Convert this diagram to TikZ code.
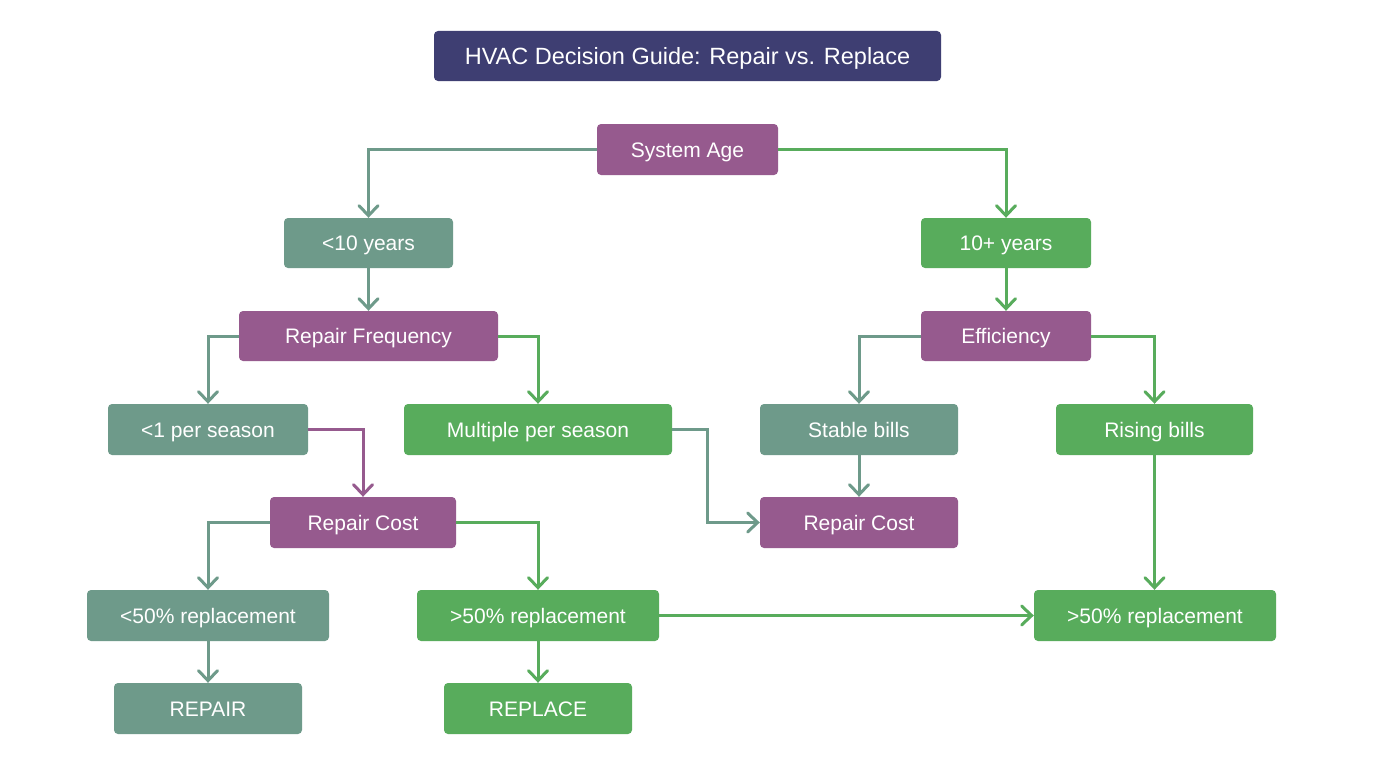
\documentclass[tikz,border=0pt]{standalone}
\usepackage{fontspec}
\setmainfont{Liberation Sans}
\usetikzlibrary{arrows.meta}
\definecolor{navy}{RGB}{62,62,114}
\definecolor{plum}{RGB}{150,90,142}
\definecolor{sage}{RGB}{110,154,138}
\definecolor{leaf}{RGB}{88,172,92}
\tikzset{
  box/.style={rounded corners=4pt, text=white, font=\fontsize{21}{24}\selectfont, minimum height=51pt, inner sep=0pt, text height=19pt, text depth=4pt, anchor=center},
  qbox/.style={box, fill=plum},
  sbox/.style={box, fill=sage},
  gbox/.style={box, fill=leaf},
  conn/.style={line width=3pt, -{Straight Barb[length=10pt,width=19pt,line width=3pt,line cap=round]}},
  sconn/.style={conn, draw=sage},
  gconn/.style={conn, draw=leaf},
  pconn/.style={conn, draw=plum}
}
\begin{document}
\begin{tikzpicture}[x=1pt,y=-1pt]
\useasboundingbox (0,0) rectangle (1376,768);
\fill[white] (0,0) rectangle (1376,768);

\node[box, fill=navy, minimum width=507pt, minimum height=50pt, font=\fontsize{23.5}{26}\selectfont, text height=21pt, text depth=4pt] (title) at (687.5,56) {HVAC Decision Guide: Repair vs. Replace};

\node[qbox, minimum width=181pt] (sys) at (687.5,149.5) {System Age};
\node[sbox, minimum width=169pt, minimum height=50pt] (lt) at (368.5,243) {<10 years};
\node[gbox, minimum width=170pt, minimum height=50pt] (gt) at (1006,243) {10+ years};
\node[qbox, minimum width=259pt, minimum height=50pt] (rf) at (368.5,336) {Repair Frequency};
\node[qbox, minimum width=170pt, minimum height=50pt] (eff) at (1006,336) {Efficiency};
\node[sbox, minimum width=200pt] (lps) at (208,429.5) {<1 per season};
\node[gbox, minimum width=268pt] (mps) at (538,429.5) {Multiple per season};
\node[sbox, minimum width=198pt] (sb) at (859,429.5) {Stable bills};
\node[gbox, minimum width=197pt] (rb) at (1154.5,429.5) {Rising bills};
\node[qbox, minimum width=186pt] (rc1) at (363,522.5) {Repair Cost};
\node[qbox, minimum width=198pt] (rc2) at (859,522.5) {Repair Cost};
\node[sbox, minimum width=242pt] (lf) at (208,615.5) {<50\% replacement};
\node[gbox, minimum width=242pt] (mf) at (538,615.5) {>50\% replacement};
\node[gbox, minimum width=242pt] (rf2) at (1155,615.5) {>50\% replacement};
\node[sbox, minimum width=188pt] (rep) at (208,708.5) {REPAIR};
\node[gbox, minimum width=188pt] (rpl) at (538,708.5) {REPLACE};

\coordinate (j1) at (707,429.5);

\draw[sconn] (sys.west) -| (lt.north);
\draw[gconn] (sys.east) -| (gt.north);
\draw[sconn] (lt.south) -- (rf.north);
\draw[gconn] (gt.south) -- (eff.north);
\draw[sconn] (rf.west) -| (lps.north);
\draw[gconn] (rf.east) -| (mps.north);
\draw[sconn] (eff.west) -| (sb.north);
\draw[gconn] (eff.east) -| (rb.north);
\draw[pconn] (lps.east) -| (rc1.north);
\draw[sconn] (mps.east) -- (j1) |- (rc2.west);
\draw[sconn] (sb.south) -- (rc2.north);
\draw[gconn] (rb.south) -- (rb.south |- rf2.north);
\draw[sconn] (rc1.west) -| (lf.north);
\draw[gconn] (rc1.east) -| (mf.north);
\draw[gconn] (mf.east) -- (rf2.west);
\draw[sconn] (lf.south) -- (rep.north);
\draw[gconn] (mf.south) -- (rpl.north);
\end{tikzpicture}
\end{document}
